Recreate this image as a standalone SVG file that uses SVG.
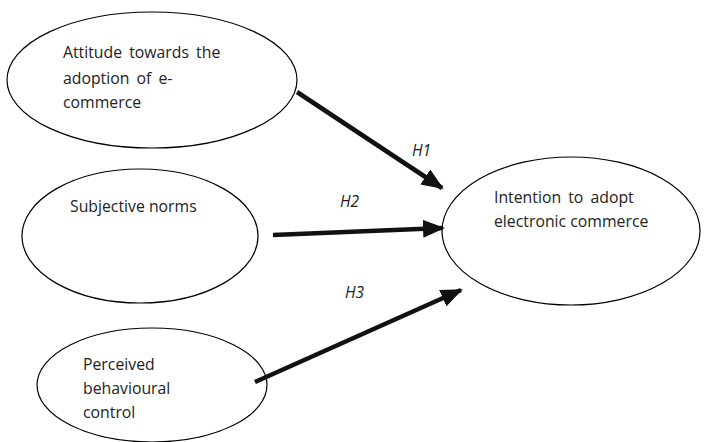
<svg xmlns="http://www.w3.org/2000/svg" width="704" height="442" viewBox="0 0 704 442">
<style>
.node ellipse{fill:#fff;stroke:#000;stroke-width:1.2}
.lbl{font-family:"Open Sans","Liberation Sans",sans-serif;font-size:15.8px;fill:#222}
.h{font-family:"Open Sans","Liberation Sans",sans-serif;font-size:15.5px;font-style:italic;fill:#222}
.edge{stroke:#111;stroke-width:4.5;fill:none;marker-end:url(#ah)}
</style>
<defs>
<marker id="ah" markerUnits="userSpaceOnUse" markerWidth="22" markerHeight="18" refX="20" refY="9" orient="auto">
<path d="M0,0 L22,9 L0,18 Z" fill="#111"/>
</marker>
</defs>
<rect width="704" height="442" fill="#fff"/>
<g id="n1" class="node">
<ellipse cx="152" cy="80" rx="145" ry="68"/>
<text class="lbl" x="63" y="58" word-spacing="3">Attitude towards the</text>
<text class="lbl" x="63" y="84" word-spacing="3">adoption of e-</text>
<text class="lbl" x="63" y="108">commerce</text>
</g>
<g id="n2" class="node">
<ellipse cx="140" cy="236" rx="118" ry="67"/>
<text class="lbl" x="70" y="212">Subjective norms</text>
</g>
<g id="n3" class="node">
<ellipse cx="152" cy="385" rx="115" ry="57"/>
<text class="lbl" x="83" y="370">Perceived</text>
<text class="lbl" x="83" y="394">behavioural</text>
<text class="lbl" x="83" y="418">control</text>
</g>
<g id="n4" class="node">
<ellipse cx="571" cy="231" rx="129" ry="74"/>
<text class="lbl" x="494" y="203" word-spacing="3">Intention to adopt</text>
<text class="lbl" x="494" y="227">electronic commerce</text>
</g>
<g id="edges">
<line class="edge" x1="297" y1="92" x2="442" y2="188"/>
<line class="edge" x1="273" y1="235" x2="443" y2="228"/>
<line class="edge" x1="255" y1="382" x2="461" y2="290"/>
<text class="h" x="412" y="156">H1</text>
<text class="h" x="340" y="207">H2</text>
<text class="h" x="345" y="298">H3</text>
</g>
</svg>
